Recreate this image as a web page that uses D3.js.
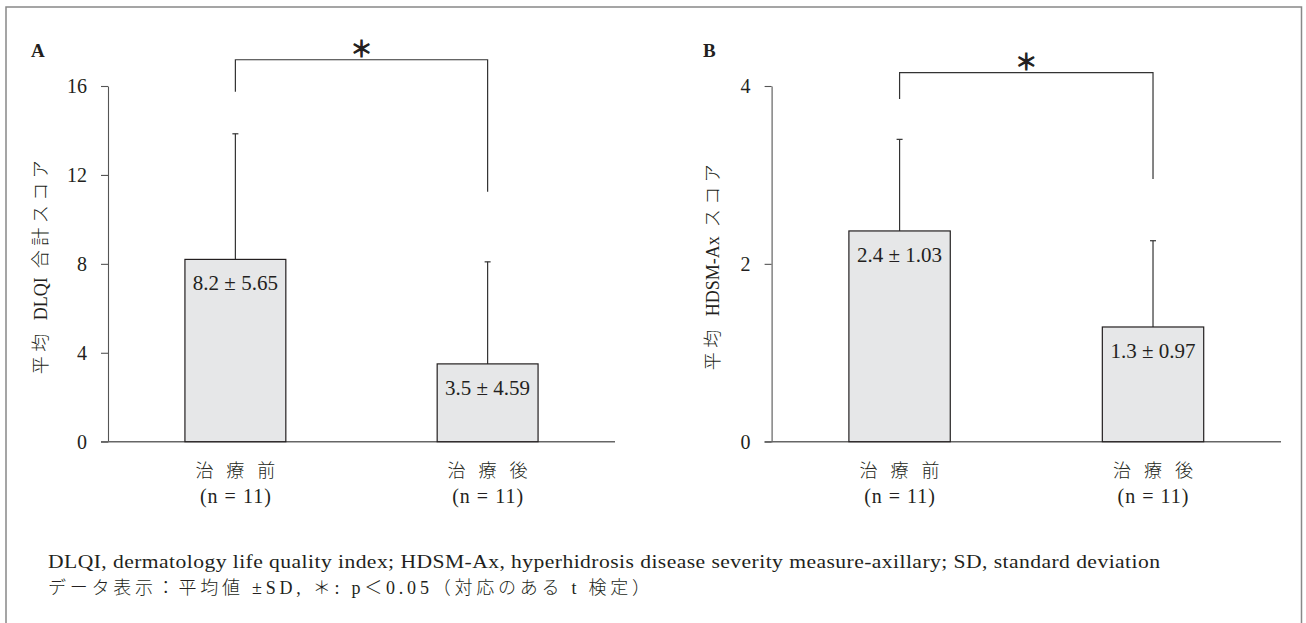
<!DOCTYPE html>
<html><head><meta charset="utf-8">
<script src="https://cdn.jsdelivr.net/npm/d3@7"></script>
<style>
html,body{margin:0;padding:0;background:#fff;}
svg{display:block;}
text{fill:#231f20;}
</style></head>
<body>
<svg id="chart" width="1306" height="623"></svg>
<script>
// ---- data ----
const categories = ["治療前", "治療後"];
const nLabels = ["(n = 11)", "(n = 11)"];
const dlqiMean = [8.2, 3.5];
const dlqiSD = [5.65, 4.59];
const dlqiLabels = ["8.2 ± 5.65", "3.5 ± 4.59"];
const dlqiTicks = [0, 4, 8, 12, 16];
const hdsmMean = [2.37, 1.29];
const hdsmSD = [1.03, 0.97];
const hdsmLabels = ["2.4 ± 1.03", "1.3 ± 0.97"];
const hdsmTicks = [0, 2, 4];
// significance bracket: [left end, top, right end] in data units
const dlqiBracket = [15.74, 17.18, 11.24];
const hdsmBracket = [3.855, 4.15, 2.955];
const footnote1 = "DLQI, dermatology life quality index; HDSM-Ax, hyperhidrosis disease severity measure-axillary; SD, standard deviation";
const footnote2 = "データ表示：平均値 ±SD, ＊: p＜0.05（対応のある t 検定）";

const SERIF = '"Liberation Serif", "Noto Sans CJK JP", serif';
const CJK = '"Noto Sans CJK JP", sans-serif';
const CJK_RE = /([\u3000-\u9fff\uff00-\uffef]+)/;

const svg = d3.select("#chart");

// outer frame (open at bottom)
svg.append("path")
  .attr("d", "M6,630 L6,7 L1301.5,7 L1301.5,630")
  .attr("fill", "none").attr("stroke", "#888").attr("stroke-width", 1.5);

function panel(opts) {
  const g = svg.append("g");
  const y = d3.scaleLinear().domain(opts.domain).range([441.7, 86]);
  const x = d3.scaleBand().domain(categories).range([opts.x0, opts.x1])
    .paddingInner(0.6).paddingOuter(0.305);

  // y axis
  const yAxis = d3.axisLeft(y).tickValues(opts.ticks).tickFormat(d3.format("d"))
    .tickSize(7).tickSizeOuter(0).tickPadding(14);
  const ya = g.append("g").attr("transform", `translate(${opts.x0},0)`).call(yAxis);
  ya.select(".domain").attr("stroke", "#555").attr("stroke-width", 1.1);
  ya.selectAll(".tick line").attr("stroke", "#555").attr("stroke-width", 1.1);
  ya.selectAll(".tick text").style("font-family", SERIF).style("font-size", "20px")
    .style("fill", "#231f20").attr("dy", "0.34em");

  // x axis line
  g.append("line").attr("x1", opts.x0 - 7).attr("x2", opts.x1)
    .attr("y1", y(0)).attr("y2", y(0)).attr("stroke", "#666").attr("stroke-width", 1.6);

  // error bars
  const eb = g.selectAll(".eb").data(categories).enter().append("g");
  eb.append("line")
    .attr("x1", d => x(d) + x.bandwidth() / 2).attr("x2", d => x(d) + x.bandwidth() / 2)
    .attr("y1", (d, i) => y(opts.mean[i])).attr("y2", (d, i) => y(opts.mean[i] + opts.sd[i]))
    .attr("stroke", "#333").attr("stroke-width", 1.2);
  eb.append("line")
    .attr("x1", d => x(d) + x.bandwidth() / 2 - 3).attr("x2", d => x(d) + x.bandwidth() / 2 + 3)
    .attr("y1", (d, i) => y(opts.mean[i] + opts.sd[i])).attr("y2", (d, i) => y(opts.mean[i] + opts.sd[i]))
    .attr("stroke", "#333").attr("stroke-width", 1.2);

  // bars
  g.selectAll(".bar").data(categories).enter().append("rect")
    .attr("x", d => x(d)).attr("width", x.bandwidth())
    .attr("y", (d, i) => y(opts.mean[i])).attr("height", (d, i) => y(0) - y(opts.mean[i]))
    .attr("fill", "#e6e7e8").attr("stroke", "#231f20").attr("stroke-width", 1.2);

  // bar value labels
  g.selectAll(".vl").data(categories).enter().append("text")
    .attr("x", d => x(d) + x.bandwidth() / 2)
    .attr("y", (d, i) => y(opts.mean[i]) + 31)
    .attr("text-anchor", "middle")
    .style("font-family", SERIF).style("font-size", "21px")
    .text((d, i) => opts.labels[i]);

  // category labels
  g.selectAll(".cl").data(categories).enter().append("text")
    .attr("x", d => x(d) + x.bandwidth() / 2 + 6.5)
    .attr("y", 477)
    .attr("text-anchor", "middle")
    .style("font-family", CJK).style("font-size", "18px").style("font-weight", 300)
    .attr("letter-spacing", 13)
    .text(d => d);
  g.selectAll(".nl").data(categories).enter().append("text")
    .attr("x", d => x(d) + x.bandwidth() / 2 + 0.5)
    .attr("y", 503)
    .attr("text-anchor", "middle")
    .style("font-family", SERIF).style("font-size", "20px")
    .attr("letter-spacing", 1)
    .text((d, i) => nLabels[i]);

  // significance bracket
  const cx = categories.map(d => x(d) + x.bandwidth() / 2);
  const b = opts.bracket;
  g.append("path")
    .attr("d", `M${cx[0]},${y(b[0])} L${cx[0]},${y(b[1])} L${cx[1]},${y(b[1])} L${cx[1]},${y(b[2])}`)
    .attr("fill", "none").attr("stroke", "#333").attr("stroke-width", 1.2);
  g.append("text").attr("x", (cx[0] + cx[1]) / 2).attr("y", y(b[1]) - 4)
    .attr("text-anchor", "middle")
    .style("font-family", CJK).style("font-size", "22px")
    .style("stroke", "#231f20").style("stroke-width", 1.1)
    .text("＊");

  // panel letter
  g.append("text").attr("x", opts.letterX).attr("y", 57)
    .style("font-family", SERIF).style("font-size", "19px").style("font-weight", "bold")
    .text(opts.letter);

  // y label (CJK runs spaced, Latin runs natural)
  const yl = g.append("text")
    .attr("transform", `translate(${opts.ylabX},${opts.ylabY}) rotate(-90)`)
    .attr("text-anchor", "middle").attr("dy", "0.35em")
    .style("font-family", SERIF).style("font-size", "18px").style("font-weight", 300);
  opts.ylabel.split(CJK_RE).filter(s => s.length).forEach(s => {
    yl.append("tspan").attr("letter-spacing", CJK_RE.test(s) ? 4.5 : 0)
      .text(s.replace(/ /g, "\u00a0\u00a0"));
  });
}

panel({ x0: 108, x1: 615, domain: [0, 16], ticks: dlqiTicks, mean: dlqiMean, sd: dlqiSD,
  labels: dlqiLabels, bracket: dlqiBracket, letter: "A", letterX: 31,
  ylabel: "平均 DLQI 合計スコア", ylabX: 41, ylabY: 265 });
panel({ x0: 771.6, x1: 1281, domain: [0, 4], ticks: hdsmTicks, mean: hdsmMean, sd: hdsmSD,
  labels: hdsmLabels, bracket: hdsmBracket, letter: "B", letterX: 703,
  ylabel: "平均 HDSM-Ax スコア", ylabX: 713, ylabY: 265 });

// footnotes (wide serif look: horizontally stretched)
const sx = 1.2;
svg.append("g").attr("transform", `translate(48,568) scale(${sx},1)`)
  .append("text").attr("x", 0).attr("y", 0)
  .style("font-family", SERIF).style("font-size", "18px")
  .attr("textLength", 1112 / sx).attr("lengthAdjust", "spacing")
  .text(footnote1);
svg.append("text").attr("x", 48).attr("y", 594)
  .style("font-family", SERIF).style("font-size", "18px").style("font-weight", 300)
  .attr("textLength", 602).attr("lengthAdjust", "spacing")
  .text(footnote2);
</script>
</body></html>
